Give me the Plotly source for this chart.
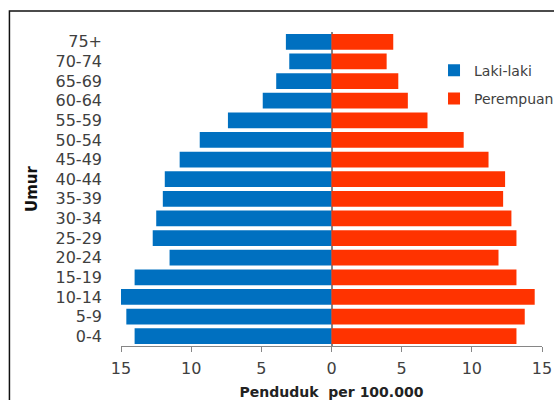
import plotly.graph_objects as go

age_groups = ["0-4", "5-9", "10-14", "15-19", "20-24", "25-29", "30-34", "35-39",
              "40-44", "45-49", "50-54", "55-59", "60-64", "65-69", "70-74", "75+"]
laki_laki = [14.03, 14.62, 15.0, 14.03, 11.54, 12.74, 12.49, 12.02,
             11.88, 10.82, 9.39, 7.38, 4.90, 3.94, 3.01, 3.25]
perempuan = [13.18, 13.77, 14.48, 13.18, 11.90, 13.18, 12.82, 12.23,
             12.37, 11.19, 9.42, 6.84, 5.44, 4.76, 3.93, 4.40]
tick_values = [-15, -10, -5, 0, 5, 10, 15]
tick_labels = ["15", "10", "5", "0", "5", "10", "15"]

FONT = "DejaVu Sans"
TXT = "#404040"

fig = go.Figure()
fig.add_trace(go.Bar(
    y=age_groups, x=[-v for v in laki_laki], orientation="h",
    name="Laki-laki", marker=dict(color="#0070C0", line=dict(width=0)),
    legendgroup="l", customdata=laki_laki,
    hovertemplate="%{y}: %{customdata}<extra>Laki-laki</extra>",
))
fig.add_trace(go.Bar(
    y=age_groups, x=perempuan, orientation="h",
    name="Perempuan", marker=dict(color="#FF3300", line=dict(width=0)),
    legendgroup="p",
    hovertemplate="%{y}: %{x}<extra>Perempuan</extra>",
))

fig.update_layout(
    width=554, height=400,
    margin=dict(l=121, r=12, t=32, b=54, autoexpand=False),
    paper_bgcolor="white", plot_bgcolor="white",
    barmode="overlay", bargap=0.2,
    font=dict(family=FONT, size=14, color=TXT),
    showlegend=True,
    legend=dict(
        x=0.7435, y=0.928, xanchor="left", yanchor="top",
        bgcolor="rgba(0,0,0,0)", borderwidth=0,
        font=dict(family=FONT, size=14, color=TXT),
        traceorder="grouped", tracegroupgap=7,
    ),
    xaxis=dict(
        range=[-15, 15], tickvals=tick_values, ticktext=tick_labels,
        showgrid=False, showline=True, linecolor="#868686", linewidth=1,
        ticks="outside", ticklen=5, tickcolor="#868686", tickwidth=1,
        zeroline=True, zerolinecolor="#868686", zerolinewidth=1.5,
        layer="above traces", automargin=False,
        ticklabelstandoff=3,
        tickfont=dict(family=FONT, size=16, color=TXT),
        title=dict(text="<b>Penduduk  per 100.000</b>", standoff=10,
                   font=dict(family=FONT, size=14, color="#222222")),
    ),
    yaxis=dict(
        showgrid=False, showline=False, ticks="", automargin=False,
        tickmode="array", tickvals=age_groups, ticktext=age_groups,
        ticklabelstandoff=18,
        tickfont=dict(family=FONT, size=16, color=TXT),
        title=dict(text="<b>Umur</b>", standoff=14,
                   font=dict(family=FONT, size=15, color="#111111")),
    ),
    shapes=[dict(
        type="rect", xref="paper", yref="paper",
        x0=-0.265, x1=1.2, y0=-0.3, y1=1.0669,
        line=dict(color="#111111", width=1.5), fillcolor="rgba(0,0,0,0)",
        layer="below",
    )],
)

fig.write_html(
    "out.html",
    config={"displayModeBar": False},
    post_script="document.body.style.margin='0';document.body.style.overflow='hidden';",
)
